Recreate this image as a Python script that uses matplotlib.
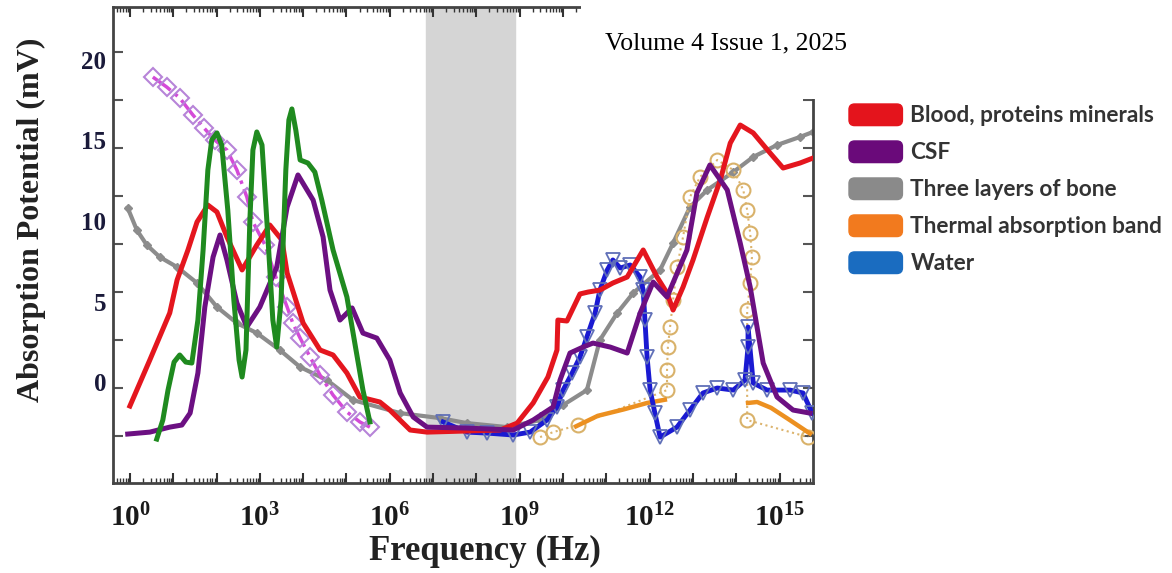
import numpy as np
import matplotlib
matplotlib.use('Agg')
import matplotlib.pyplot as plt
from matplotlib.patches import Patch, Rectangle, FancyBboxPatch
from matplotlib.legend_handler import HandlerPatch
from matplotlib.ticker import FixedLocator, LogLocator, MultipleLocator, FuncFormatter, NullFormatter

plt.rcParams['mathtext.fontset'] = 'custom'
plt.rcParams['mathtext.rm'] = 'Liberation Serif'
plt.rcParams['mathtext.bf'] = 'Liberation Serif:bold'

# ---- data: log10(frequency / Hz) and absorption potential (mV) ----
green_lf = [0.62, 0.76, 0.88, 1.02, 1.15, 1.29, 1.43, 1.57, 1.69, 1.80, 1.89, 2.01, 2.12, 2.26, 2.40,
            2.52, 2.59, 2.68, 2.77, 2.84, 2.93, 3.05, 3.19, 3.30, 3.39, 3.49, 3.60, 3.67, 3.74, 3.83,
            3.93, 4.11, 4.27, 4.43, 4.69, 5.01, 5.20, 5.38, 5.54]
green_mv = [-3.54, -2.36, -0.50, 1.24, 1.68, 1.24, 1.18, 3.85, 8.20, 13.17, 15.03, 15.47, 14.72, 10.68, 5.09,
            1.37, 0.31, 1.99, 10.06, 14.41, 15.53, 14.72, 8.82, 3.85, 2.17, 5.09, 13.17, 16.27, 16.96, 15.65,
            13.79, 13.60, 13.04, 11.30, 8.20, 5.28, 2.30, -0.50, -2.48]

blood_lf = [0.00, 0.46, 0.92, 1.09, 1.34, 1.55, 1.80, 2.01, 2.24, 2.59, 2.93, 3.23, 3.51, 3.63, 4.00,
            4.39, 4.69, 5.01, 5.31, 5.77, 6.00, 6.47, 6.86, 8.55, 8.94, 9.31, 9.65, 9.86, 9.88, 10.09,
            10.39, 10.58, 10.85, 11.15, 11.48, 11.85, 12.17, 12.40, 12.54, 12.77, 13.00, 13.33, 13.63,
            13.86, 14.09, 14.39, 14.78, 15.08, 15.47, 15.77]
blood_mv = [-1.49, 1.37, 4.29, 6.34, 8.20, 9.94, 10.99, 10.56, 9.01, 6.96, 8.51, 9.75, 8.82, 6.77, 3.66,
            1.99, 1.68, 0.56, -0.93, -1.24, -1.74, -2.98, -3.11, -2.98, -2.55, -1.30, 0.31, 1.99, 3.85, 3.79,
            5.47, 5.59, 5.71, 6.15, 6.52, 8.20, 6.52, 5.53, 4.47, 5.90, 7.58, 10.25, 12.55,
            14.84, 15.96, 15.47, 14.22, 13.29, 13.60, 13.91]

csf_lf = [-0.05, 0.46, 0.92, 1.20, 1.39, 1.57, 1.73, 1.92, 2.08, 2.24, 2.47, 2.70, 3.00, 3.39, 3.63,
          3.88, 4.23, 4.46, 4.62, 4.85, 5.13, 5.38, 5.70, 6.00, 6.24, 6.54, 6.86, 7.78, 8.85, 9.31,
          9.77, 9.93, 10.16, 10.46, 10.69, 11.09, 11.48, 11.78, 12.08, 12.40, 12.86, 13.09, 13.39,
          13.79, 14.09, 14.32, 14.62, 14.94, 15.31, 15.70]
csf_mv = [-3.23, -3.11, -2.80, -2.67, -1.93, 0.56, 4.66, 7.76, 9.13, 7.58, 4.91, 3.42, 4.66, 7.14, 10.87,
          12.86, 11.30, 9.01, 5.71, 3.85, 4.60, 3.04, 2.73, 1.37, -0.68, -2.17, -2.80, -2.86, -2.98, -2.36,
          -1.55, 0.12, 1.80, 2.17, 2.42, 2.17, 1.80, 4.29, 6.21, 5.28, 8.20, 11.74, 13.48,
          11.93, 8.63, 5.90, 1.18, -0.93, -1.74, -1.93]

bone_lf = [-0.05, 0.16, 0.39, 0.69, 1.09, 1.55, 2.01, 2.47, 2.93, 3.46, 3.93, 4.55, 5.15, 6.24, 7.16,
           7.78, 8.71, 9.47, 10.00, 10.55, 10.85, 11.25, 11.62, 12.24, 12.54, 12.93, 13.33, 13.93,
           14.39, 14.94, 15.47, 15.77]
bone_mv = [10.81, 9.44, 8.51, 7.76, 7.14, 6.15, 4.66, 3.66, 3.04, 1.99, 0.93, 0.12, -1.12, -1.93, -2.24,
           -2.55, -2.80, -2.36, -1.43, -0.50, 2.61, 4.29, 5.53, 6.96, 8.63, 10.87, 11.93, 13.04,
           13.98, 14.72, 15.22, 15.53]

magenta_lf = [0.53, 0.85, 1.15, 1.45, 1.71, 1.97, 2.24, 2.47, 2.70, 2.84, 3.12, 3.37, 3.63, 3.76, 3.93,
              4.16, 4.39, 4.69, 5.01, 5.31, 5.54]
magenta_mv = [18.94, 18.32, 17.64, 16.60, 15.78, 15.00, 14.41, 13.17, 11.49, 9.94, 8.51, 6.52, 4.66, 3.66,
              2.73, 1.55, 0.43, -0.81, -1.86, -2.48, -2.80]

water_lf = [7.23, 7.78, 8.24, 8.85, 9.24, 9.63, 9.86, 10.00, 10.21, 10.39, 10.55, 10.74, 10.85, 11.02,
            11.15, 11.32, 11.55, 11.78, 11.85, 11.89, 11.94, 12.01, 12.12, 12.24, 12.63, 12.93, 13.23,
            13.56, 13.93, 14.20, 14.27, 14.27, 14.39, 14.71, 15.24, 15.54, 15.75]
water_mv = [-2.48, -3.11, -3.17, -3.29, -3.11, -2.36, -1.55, -0.50, 0.56, 1.55, 2.80, 4.29, 5.71, 6.96,
            7.58, 7.08, 7.27, 6.52, 5.71, 3.85, 1.55, -0.50, -1.93, -3.42, -2.80, -1.74, -0.68,
            -0.37, -0.50, 0.12, 2.17, 3.42, -0.06, -0.50, -0.50, -0.68, -1.93]

thermal_line_lf = [10.30, 10.80, 11.40, 11.94, 12.35]
thermal_line_mv = [-2.75, -2.10, -1.70, -1.30, -1.10]
thermal_line2_lf = [14.27, 14.48, 14.80, 15.20, 15.70]
thermal_line2_mv = [-1.30, -1.24, -1.60, -2.30, -3.20]
thermal_pts_lf = [9.47, 9.77, 10.35, 12.40, 12.40, 12.42, 12.47, 12.54, 12.63, 12.77, 12.93, 13.16,
                  13.56, 13.93, 14.16, 14.25, 14.32, 14.36, 14.32, 14.25, 14.25, 15.66]
thermal_pts_mv = [-3.42, -3.11, -2.67, -0.50, 0.75, 2.17, 3.42, 5.09, 7.14, 9.01, 11.49, 12.73,
                  13.79, 13.17, 11.93, 10.68, 9.25, 7.76, 6.15, 4.47, -2.36, -3.42]

band_lf = (6.84, 8.89)

legend_labels = ['Blood, proteins minerals', 'CSF', 'Three layers of bone',
                 'Thermal absorption band', 'Water']
legend_colors = ['#e4141c', '#6a0a7a', '#8a8a8a', '#f27a1e', '#1a6cc0']


def hz(lf):
    return 10.0 ** np.asarray(lf)


fig = plt.figure(figsize=(11.72, 5.73), dpi=100)
ax = fig.add_axes([113 / 1172, 1 - 483 / 573, 700 / 1172, 476 / 573])

ax.axvspan(hz(band_lf[0]), hz(band_lf[1]), color='#d5d5d5', zorder=0)

ax.plot(hz(bone_lf), bone_mv, color='#8c8c8c', lw=3, marker='D', ms=4, zorder=2)
ax.plot(hz(magenta_lf), magenta_mv, color='#d44ad8', lw=2.5, ls='-.', marker='D', ms=9.5,
        mfc='none', mec='#b784d8', mew=1.5, zorder=3)
ax.plot(hz(thermal_pts_lf), thermal_pts_mv, color='#dcb46e', lw=1.5, ls=':', marker='o', ms=10,
        mfc='none', mec='#d9b26a', mew=1.5, zorder=3)
ax.plot(hz(thermal_line_lf), thermal_line_mv, color='#ec9020', lw=3.2, zorder=3)
ax.plot(hz(thermal_line2_lf), thermal_line2_mv, color='#ec9020', lw=3.2, zorder=3)
ax.plot(hz(water_lf), water_mv, color='#1a1ad2', lw=3.5, marker='v', ms=10,
        mfc='none', mec='#6070b8', mew=1.3, zorder=4)
ax.plot(hz(blood_lf), blood_mv, color='#e4161e', lw=3.6, zorder=5)
ax.plot(hz(csf_lf), csf_mv, color='#6c1082', lw=3.6, zorder=6)
ax.plot(hz(green_lf), green_mv, color='#1f8a1f', lw=3.6, zorder=7)

ax.set_xscale('log')
ax.set_xlim(hz(-0.39), hz(15.77))
ax.set_ylim(-6.27, 23.29)

ax.xaxis.set_major_locator(FixedLocator(hz(np.arange(0, 16))))
ax.xaxis.set_minor_locator(LogLocator(base=10, subs=np.arange(2, 10), numticks=40))
ax.xaxis.set_minor_formatter(NullFormatter())


def fmt(v, pos):
    e = int(round(np.log10(v)))
    return r'$\mathbf{10^{%d}}$' % e if e % 3 == 0 else ''


ax.xaxis.set_major_formatter(FuncFormatter(fmt))
ax.set_yticks([0, 5, 10, 15, 20])
ax.yaxis.set_minor_locator(MultipleLocator(2.98, offset=-0.37))

ax.tick_params(axis='x', which='major', direction='in', length=7, width=1.5, top=True,
               labelsize=21, pad=15, colors='#333333', labelcolor='#1a1a1a')
ax.tick_params(axis='x', which='minor', direction='in', length=3.5, width=1, top=True, colors='#333333')
ax.tick_params(axis='y', which='major', length=0, pad=5, labelsize=18, labelcolor='#1a1a3a')
ax.tick_params(axis='y', which='minor', direction='in', length=7, width=1.5, right=True, colors='#555555')
for lab in ax.get_yticklabels():
    lab.set_family('Liberation Serif')
    lab.set_weight('bold')

for s in ax.spines.values():
    s.set_color('#444444')
    s.set_linewidth(2)

ax.set_xlabel('Frequency (Hz)', family='Liberation Serif', weight='bold', size=25, color='#222222')
ax.xaxis.set_label_coords((485 - 113) / 700, (483 - 535) / 476)
ax.set_ylabel('Absorption Potential (mV)', family='Liberation Serif', weight='bold', size=23,
              color='#222222')
ax.yaxis.set_label_coords((46 - 113) / 700, (483 - 220) / 476)

# white header box covering the top right corner of the frame
fig.add_artist(Rectangle((581 / 1172, 1 - 99 / 573), 1, 1, transform=fig.transFigure,
                         facecolor='white', edgecolor='none', zorder=5))
fig.text(605 / 1172, 1 - 43 / 573, 'Volume 4 Issue 1, 2025', family='Liberation Serif',
         size=18.5, va='center', ha='left', zorder=6)


def rounded(legend, orig_handle, xdescent, ydescent, width, height, fontsize):
    return FancyBboxPatch((-xdescent, -ydescent), width, height,
                          boxstyle='round,pad=0,rounding_size=4')


handles = [Patch(facecolor=c, edgecolor=c) for c in legend_colors]
leg = fig.legend(handles, legend_labels, loc='upper left', bbox_to_anchor=(849 / 1172, 1 - 104 / 573),
                 frameon=False, borderpad=0, borderaxespad=0, handlelength=2.36, handleheight=1.09,
                 handletextpad=0.35, labelspacing=0.64,
                 prop={'family': 'Lato', 'weight': 'bold', 'size': 16.3},
                 handler_map={Patch: HandlerPatch(patch_func=rounded)})
for t in leg.get_texts():
    t.set_color('#333333')
leg.set_zorder(7)

fig.savefig('out.png', dpi=100)
